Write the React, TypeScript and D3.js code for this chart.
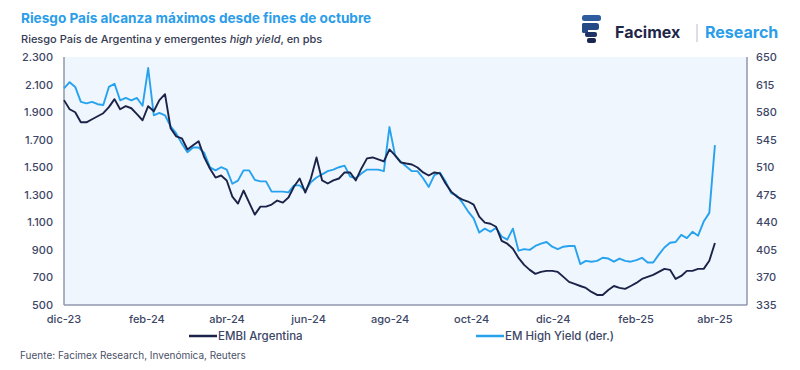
import React, { useRef, useEffect } from "react";
import * as d3 from "d3";

// serie: muestras regulares entre inicio y fin
const startDate = new Date(2023, 11, 1);
const endDate = new Date(2025, 3, 1);

// EMBI Argentina (pbs, eje izq.)
const embiValues = [
  1987, 1921, 1899, 1826, 1826, 1848, 1870, 1892, 1936, 1994,
  1921, 1943, 1928, 1885, 1841, 1943, 1906, 1987, 2030, 1783,
  1724, 1710, 1629, 1659, 1688, 1571, 1491, 1425, 1440, 1404,
  1287, 1236, 1331, 1243, 1156, 1214, 1214, 1229, 1258, 1243,
  1280, 1360, 1418, 1316, 1418, 1571, 1404, 1382, 1404, 1418,
  1462, 1462, 1404, 1491, 1564, 1571, 1557, 1542, 1629, 1586,
  1535, 1527, 1520, 1498, 1462, 1440, 1462, 1455, 1382, 1323,
  1287, 1265, 1251, 1229, 1141, 1098, 1090, 1068, 966, 945,
  908, 842, 791, 755, 726, 740, 748, 748, 740, 704,
  668, 653, 638, 624, 595, 573, 573, 609, 638, 624,
  617, 638, 660, 689, 704, 719, 740, 762, 755, 689,
  711, 748, 748, 762, 762, 821, 950,
];

// EM High Yield (pbs, eje der.)
const hyValues = [
  610, 618, 612, 593, 591, 593, 590, 589, 612, 616,
  595, 598, 595, 598, 588, 636, 576, 579, 576, 562,
  553, 540, 529, 535, 535, 528, 510, 506, 510, 507,
  489, 493, 506, 506, 494, 492, 492, 479, 479, 479,
  478, 487, 487, 480, 491, 497, 501, 505, 507, 510,
  512, 498, 496, 502, 507, 507, 507, 505, 561, 525,
  517, 511, 505, 505, 496, 485, 500, 503, 492, 477,
  474, 465, 454, 445, 427, 432, 428, 433, 422, 418,
  432, 404, 406, 405, 410, 413, 415, 409, 406, 409,
  410, 410, 387, 391, 390, 391, 395, 394, 390, 394,
  391, 390, 392, 395, 389, 389, 399, 408, 414, 415,
  424, 420, 428, 423, 441, 452, 538,
];

const leftTicks = [500, 700, 900, 1100, 1300, 1500, 1700, 1900, 2100, 2300];
const rightTicks = [335, 370, 405, 440, 475, 510, 545, 580, 615, 650];
const xTickLabels = ["dic-23", "feb-24", "abr-24", "jun-24", "ago-24", "oct-24", "dic-24", "feb-25", "abr-25"];
const xTickDates = [
  new Date(2023, 11, 1), new Date(2024, 1, 1), new Date(2024, 3, 1), new Date(2024, 5, 1),
  new Date(2024, 7, 1), new Date(2024, 9, 1), new Date(2024, 11, 1), new Date(2025, 1, 1),
  new Date(2025, 3, 1),
];

const navy = "#1b2348";
const sky = "#27a2ef";
const labelColor = "#3c4666";
const font = "Inter, 'Open Sans', sans-serif";

const App: React.FC = () => {
  const svgRef = useRef<SVGSVGElement | null>(null);

  useEffect(() => {
    if (!svgRef.current) return;
    const svg = d3.select(svgRef.current);
    svg.selectAll("*").remove();

    const left = 64, right = 747, top = 57, bottom = 305;

    const step = (endDate.getTime() - startDate.getTime()) / (embiValues.length - 1);
    const dates = embiValues.map((_, i) => new Date(startDate.getTime() + i * step));

    const x = d3.scaleTime()
      .domain([startDate, new Date(2025, 3, 25)])
      .range([left, right]);
    const yL = d3.scaleLinear().domain([500, 2300]).range([bottom, top]);
    const yR = d3.scaleLinear().domain([335, 650]).range([bottom, top]);

    // fondo del área
    svg.append("rect")
      .attr("x", left).attr("y", top)
      .attr("width", right - left).attr("height", bottom - top)
      .attr("fill", "#eff6fd");

    // títulos
    svg.append("text")
      .attr("x", 21).attr("y", 23)
      .attr("font-family", font).attr("font-weight", 700).attr("font-size", 13.6)
      .attr("fill", "#2b9de9")
      .text("Riesgo País alcanza máximos desde fines de octubre");

    const sub = svg.append("text")
      .attr("x", 21).attr("y", 43)
      .attr("font-family", font).attr("font-weight", 500).attr("font-size", 11)
      .attr("fill", "#353b52");
    sub.append("tspan").text("Riesgo País de Argentina y emergentes ");
    sub.append("tspan").attr("font-style", "italic").text("high yield");
    sub.append("tspan").text(", en pbs");

    // logo
    const logo = svg.append("g");
    logo.append("rect").attr("x", 582).attr("y", 15).attr("width", 19).attr("height", 6).attr("rx", 2.5).attr("fill", "#2e5c9e");
    logo.append("rect").attr("x", 582).attr("y", 23).attr("width", 17).attr("height", 7).attr("rx", 2.5).attr("fill", "#264a86");
    logo.append("rect").attr("x", 582).attr("y", 23).attr("width", 6).attr("height", 10).attr("rx", 1.5).attr("fill", "#264a86");
    logo.append("rect").attr("x", 585).attr("y", 32).attr("width", 12).attr("height", 5).attr("rx", 2).attr("fill", "#1f3466");
    logo.append("rect").attr("x", 587).attr("y", 38).attr("width", 9).attr("height", 5).attr("rx", 2).attr("fill", "#1b2650");
    logo.append("text")
      .attr("x", 615).attr("y", 38)
      .attr("font-family", font).attr("font-weight", 700).attr("font-size", 16)
      .attr("fill", "#1f2749").text("Facimex");
    logo.append("line")
      .attr("x1", 697).attr("x2", 697).attr("y1", 24).attr("y2", 42)
      .attr("stroke", "#b9bfcc").attr("stroke-width", 1);
    logo.append("text")
      .attr("x", 705).attr("y", 38)
      .attr("font-family", font).attr("font-weight", 700).attr("font-size", 16)
      .attr("fill", "#2b9de9").text("Research");

    // ejes
    const axisColor = "#8f97ab";
    svg.append("line").attr("x1", left).attr("x2", left).attr("y1", top).attr("y2", bottom)
      .attr("stroke", axisColor).attr("stroke-width", 1.5);
    svg.append("line").attr("x1", right).attr("x2", right).attr("y1", top).attr("y2", bottom)
      .attr("stroke", axisColor).attr("stroke-width", 1.5);
    svg.append("line").attr("x1", left).attr("x2", right).attr("y1", bottom).attr("y2", bottom)
      .attr("stroke", axisColor).attr("stroke-width", 1.5);

    const esFormat = d3.formatLocale({
      decimal: ",", thousands: ".", grouping: [3], currency: ["$", ""],
    }).format(",");

    svg.append("g")
      .selectAll("text")
      .data(leftTicks)
      .enter()
      .append("text")
      .attr("x", 53).attr("y", (d) => yL(d) + 4)
      .attr("text-anchor", "end")
      .attr("font-family", font).attr("font-size", 11).attr("font-weight", 500)
      .attr("fill", labelColor)
      .text((d) => esFormat(d));

    svg.append("g")
      .selectAll("text")
      .data(rightTicks)
      .enter()
      .append("text")
      .attr("x", 756).attr("y", (d) => yR(d) + 4)
      .attr("font-family", font).attr("font-size", 11).attr("font-weight", 500)
      .attr("fill", labelColor)
      .text((d) => d);

    svg.append("g")
      .selectAll("text")
      .data(xTickDates)
      .enter()
      .append("text")
      .attr("x", (d) => x(d)).attr("y", 323)
      .attr("text-anchor", "middle")
      .attr("font-family", font).attr("font-size", 11).attr("font-weight", 500)
      .attr("fill", labelColor)
      .text((_, i) => xTickLabels[i]);

    // líneas
    const lineL = d3.line<number>()
      .x((_, i) => x(dates[i]))
      .y((d) => yL(d));
    const lineR = d3.line<number>()
      .x((_, i) => x(dates[i]))
      .y((d) => yR(d));

    svg.append("path")
      .datum(hyValues)
      .attr("d", lineR)
      .attr("fill", "none")
      .attr("stroke", sky)
      .attr("stroke-width", 1.9)
      .attr("stroke-linejoin", "round");

    svg.append("path")
      .datum(embiValues)
      .attr("d", lineL)
      .attr("fill", "none")
      .attr("stroke", navy)
      .attr("stroke-width", 1.9)
      .attr("stroke-linejoin", "round");

    // leyenda
    const legend = [
      { label: "EMBI Argentina", color: navy, x: 189 },
      { label: "EM High Yield (der.)", color: sky, x: 476 },
    ];
    legend.forEach((l) => {
      svg.append("line")
        .attr("x1", l.x).attr("x2", l.x + 28).attr("y1", 336).attr("y2", 336)
        .attr("stroke", l.color).attr("stroke-width", 2.5);
      svg.append("text")
        .attr("x", l.x + 29).attr("y", 340)
        .attr("font-family", font).attr("font-size", 11.5).attr("font-weight", 500)
        .attr("fill", labelColor)
        .text(l.label);
    });

    svg.append("text")
      .attr("x", 20).attr("y", 359)
      .attr("font-family", font).attr("font-size", 10)
      .attr("fill", "#4a5068")
      .text("Fuente: Facimex Research, Invenómica, Reuters");
  }, []);

  return (
    <svg
      ref={svgRef}
      width={800}
      height={370}
      style={{ position: "absolute", left: 0, top: 0, background: "#fff" }}
    ></svg>
  );
};

export default App;
